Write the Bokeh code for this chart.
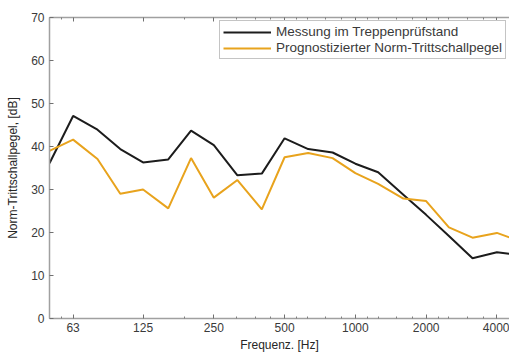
from bokeh.plotting import figure
from bokeh.models import Range1d, FixedTicker, LogAxis, Legend, LegendItem
from bokeh.embed import file_html
from bokeh.resources import INLINE

# Third-octave band centre frequencies [Hz]
freq = [50, 63, 80, 100, 125, 160, 200, 250, 315, 400, 500, 630, 800,
        1000, 1250, 1600, 2000, 2500, 3150, 4000, 5000]
# Messung im Treppenprüfstand [dB]
messung = [36.1, 47.1, 43.9, 39.4, 36.3, 37.0, 43.7, 40.3, 33.3, 33.7, 41.9,
           39.4, 38.6, 36.0, 34.0, 28.8, 24.1, 19.2, 14.0, 15.4, 14.8]
# Prognostizierter Norm-Trittschallpegel [dB]
prognose = [39.0, 41.6, 37.1, 29.0, 30.0, 25.6, 37.3, 28.1, 32.2, 25.4, 37.5,
            38.5, 37.3, 33.8, 31.3, 27.9, 27.3, 21.2, 18.8, 19.9, 18.0]

x_ticks = [63, 125, 250, 500, 1000, 2000, 4000]
x_tick_labels = ["63", "125", "250", "500", "1000", "2000", "4000"]
x_minor_ticks = [56, 187.5, 312.5, 375, 437.5, 562.5, 625, 750, 875,
                 1125, 1250, 1500, 1750, 2250, 2500, 3000, 3500]
y_ticks = [0, 10, 20, 30, 40, 50, 60, 70]

FONT = "Liberation Sans"
AXIS_GRAY = "#a0a0a0"
TEXT = "#3a3a3a"

p = figure(width=509, height=354, x_axis_type="log",
           x_range=Range1d(50, 4525), y_range=Range1d(0, 70),
           output_backend="svg", toolbar_location=None,
           min_border_left=49, min_border_right=0,
           min_border_top=17, min_border_bottom=34)
p.outline_line_color = None
p.xgrid.visible = False
p.ygrid.visible = False
p.background_fill_color = "white"
p.border_fill_color = "white"

r1 = p.line(freq, messung, line_color="#1c1c1c", line_width=2)
r2 = p.line(freq, prognose, line_color="#e8a31d", line_width=2)

xa = p.xaxis[0]
xa.ticker = FixedTicker(ticks=x_ticks, minor_ticks=x_minor_ticks)
xa.major_label_overrides = {t: l for t, l in zip(x_ticks, x_tick_labels)}
xa.axis_label = "Frequenz. [Hz]"

top = LogAxis(ticker=FixedTicker(ticks=x_ticks, minor_ticks=x_minor_ticks))
top.major_label_overrides = {t: "" for t in x_ticks}
p.add_layout(top, "above")

ya = p.yaxis[0]
ya.ticker = FixedTicker(ticks=y_ticks)
ya.axis_label = "Norm-Trittschallpegel, [dB]"

for ax in [xa, ya, top]:
    ax.axis_line_color = AXIS_GRAY
    ax.axis_line_width = 1.5
    ax.major_tick_line_color = "#707070"
    ax.minor_tick_line_color = "#808080"
    ax.major_tick_in = 4
    ax.major_tick_out = 0
    ax.minor_tick_in = 2
    ax.minor_tick_out = 0
    ax.major_label_text_font = FONT
    ax.major_label_text_font_size = "12px"
    ax.major_label_text_color = TEXT
    ax.axis_label_text_font = FONT
    ax.axis_label_text_font_size = "12px"
    ax.axis_label_text_font_style = "normal"
    ax.axis_label_text_color = "#262626"

top.major_label_standoff = 0
ya.minor_tick_in = 0
xa.major_label_standoff = 4
xa.axis_label_standoff = 3
ya.major_label_standoff = 5
ya.axis_label_standoff = 8

legend = Legend(items=[LegendItem(label="Messung im Treppenprüfstand", renderers=[r1]),
                       LegendItem(label="Prognostizierter Norm-Trittschallpegel", renderers=[r2])],
                location=(170, 259))
legend.label_text_font = FONT
legend.label_text_font_size = "13.5px"
legend.label_text_color = TEXT
legend.glyph_width = 48
legend.glyph_height = 14
legend.label_height = 14
legend.label_standoff = 5
legend.spacing = 1
legend.padding = 3
legend.margin = 0
legend.border_line_color = "#8a8a8a"
legend.border_line_width = 1
legend.background_fill_alpha = 1
p.add_layout(legend, "center")

open("out.html", "w").write(file_html(p, INLINE))
